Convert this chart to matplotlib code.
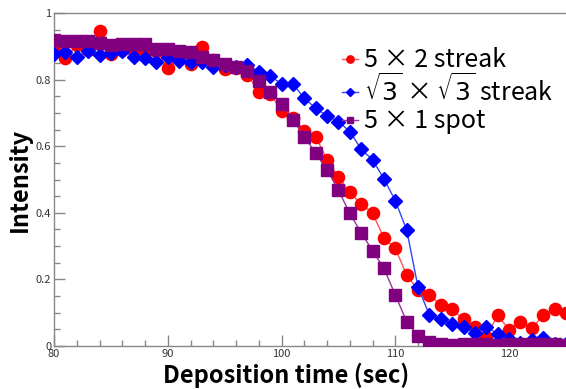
import matplotlib
matplotlib.use("Agg")
import matplotlib.pyplot as plt
from matplotlib.ticker import MultipleLocator

time = list(range(80, 126))

streak_5x2 = [0.900, 0.864, 0.905, 0.889, 0.946, 0.877, 0.890, 0.887, 0.890, 0.885,
              0.836, 0.868, 0.846, 0.899, 0.860, 0.832, 0.835, 0.814, 0.763, 0.756,
              0.707, 0.686, 0.645, 0.629, 0.559, 0.508, 0.461, 0.426, 0.398, 0.325,
              0.293, 0.213, 0.168, 0.153, 0.123, 0.110, 0.080, 0.058, 0.028, 0.093,
              0.048, 0.073, 0.053, 0.093, 0.110, 0.099]

streak_r3 = [0.876, 0.884, 0.867, 0.886, 0.873, 0.879, 0.886, 0.869, 0.866, 0.854,
             0.869, 0.856, 0.853, 0.853, 0.839, 0.845, 0.839, 0.844, 0.824, 0.811,
             0.787, 0.787, 0.744, 0.714, 0.691, 0.674, 0.644, 0.591, 0.559, 0.502,
             0.436, 0.348, 0.176, 0.093, 0.080, 0.066, 0.058, 0.040, 0.058, 0.036,
             0.020, 0.010, 0.018, 0.023, 0.007, 0.007]

spot_5x1 = [0.919, 0.916, 0.916, 0.916, 0.911, 0.904, 0.908, 0.907, 0.906, 0.891,
            0.891, 0.887, 0.884, 0.867, 0.859, 0.846, 0.837, 0.826, 0.795, 0.763,
            0.727, 0.679, 0.629, 0.579, 0.529, 0.468, 0.398, 0.340, 0.286, 0.233,
            0.153, 0.073, 0.030, 0.011, 0.005, 0.004, 0.006, 0.005, 0.005, 0.004,
            0.005, 0.005, 0.005, 0.005, 0.005, 0.004]

labels = ["5 × 2 streak", r"$\sqrt{3}$ × $\sqrt{3}$ streak", "5 × 1 spot"]

JP = ["Noto Sans CJK JP", "DejaVu Sans"]
plt.rcParams["mathtext.fontset"] = "dejavusans"

fig = plt.figure(figsize=(5.66, 3.89), dpi=100)
ax = fig.add_axes([54/566, 43/389, 512/566, 333/389])

ax.plot(time, streak_5x2, color="#ff5555", lw=1.0, marker="o", ms=8.8,
        mfc="#ff0000", mec="#ff0000", label=labels[0], zorder=3)
ax.plot(time, streak_r3, color="#3344ff", lw=1.0, marker="D", ms=6.7,
        mfc="#0000ff", mec="#0000ff", label=labels[1], zorder=4)
ax.plot(time, spot_5x1, color="#993399", lw=1.0, marker="s", ms=8,
        mfc="#800080", mec="#800080", label=labels[2], zorder=5)

ax.set_xlim(80, 125)
ax.set_ylim(0, 1)
ax.xaxis.set_major_locator(MultipleLocator(10))
ax.xaxis.set_minor_locator(MultipleLocator(2))
ax.yaxis.set_major_locator(MultipleLocator(0.2))
ax.yaxis.set_minor_locator(MultipleLocator(0.05))
ax.set_yticks([0, 0.2, 0.4, 0.6, 0.8, 1.0])
ax.set_yticklabels(["0", "0.2", "0.4", "0.6", "0.8", "1"])

for s in ["left", "bottom", "top"]:
    ax.spines[s].set_color("#888888")
    ax.spines[s].set_linewidth(1.0)
ax.spines["right"].set_visible(False)

ax.tick_params(axis="both", which="major", direction="in", length=8, width=1,
               color="#888888", labelsize=8, labelcolor="#333333", pad=2)
ax.tick_params(axis="both", which="minor", direction="in", length=4, width=1,
               color="#888888")
for lab in ax.get_xticklabels() + ax.get_yticklabels():
    lab.set_family(JP)

ax.set_xlabel("Deposition time (sec)", fontsize=17, fontweight="bold", family=JP)
ax.xaxis.set_label_coords(0.453, -0.05, transform=ax.transAxes)
ax.xaxis.label.set_va("top")
ax.set_ylabel("Intensity", fontsize=17, fontweight="bold", family=JP)
ax.yaxis.set_label_coords(-0.043, 0.5)

leg = ax.legend(loc="upper left", bbox_to_anchor=(0.5625, 0.897), frameon=False,
                prop={"family": JP, "size": 18}, handlelength=0.62,
                handletextpad=0.24, labelspacing=0.05, markerscale=0.6,
                borderaxespad=0, borderpad=0)

fig.savefig("out.png", dpi=100)
